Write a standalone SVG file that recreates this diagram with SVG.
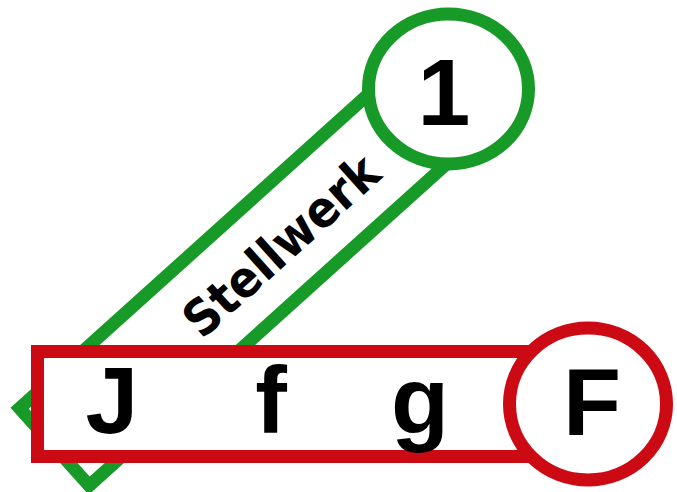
<svg xmlns="http://www.w3.org/2000/svg" width="677" height="492" viewBox="0 0 677 492">
  <style>
    .g { fill: #ffffff; stroke: #189a28; stroke-width: 13; stroke-linejoin: miter; }
    .r { fill: #ffffff; stroke: #cc0a14; stroke-width: 13; stroke-linejoin: miter; }
    .big { font-family: "Liberation Sans", Arial, sans-serif; font-weight: bold; font-size: 95px; fill: #000000; text-anchor: middle; }
    .lbl { font-family: "DejaVu Sans", "Liberation Sans", sans-serif; font-weight: bold; font-size: 50px; fill: #000000; text-anchor: middle; }
  </style>
  <rect x="0" y="0" width="677" height="492" fill="#ffffff"/>
  <g id="stellwerk">
    <g transform="translate(54,448) rotate(-42)">
      <rect class="g" x="1" y="-52.5" width="533" height="104"/>
      <text class="lbl" x="304" y="19" textLength="244" lengthAdjust="spacingAndGlyphs">Stellwerk</text>
    </g>
  </g>
  <g id="node-1">
    <ellipse class="g" cx="448.5" cy="89" rx="80" ry="75"/>
    <text class="big" x="444" y="125">1</text>
  </g>
  <g id="row">
    <rect class="r" x="37.5" y="351.5" width="530" height="105"/>
    <text class="big" x="112" y="433">J</text>
    <text class="big" x="271" y="433">f</text>
    <text class="big" x="420" y="433">g</text>
  </g>
  <g id="node-F">
    <ellipse class="r" cx="588" cy="404" rx="78.5" ry="76"/>
    <text class="big" x="592" y="435">F</text>
  </g>
  <g id="connectors"></g>
</svg>
